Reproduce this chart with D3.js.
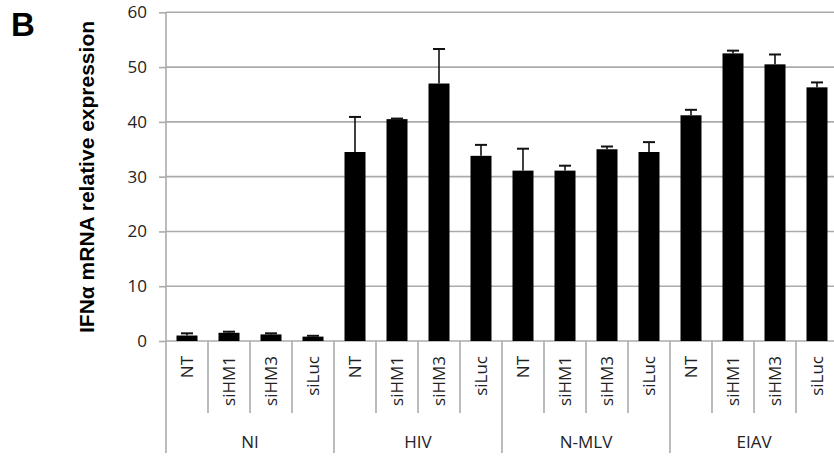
<!DOCTYPE html>
<html>
<head>
<meta charset="utf-8">
<script src="https://cdn.jsdelivr.net/npm/d3@7"></script>
<style>
  body { margin: 0; background: #fff; }
  svg { display: block; }
</style>
</head>
<body>
<div id="chart"></div>
<script>
// groups and treatments
var groups = ['NI', 'HIV', 'N-MLV', 'EIAV'];
var treatments = ['NT', 'siHM1', 'siHM3', 'siLuc'];

// mean values per group (same order as treatments)
var valuesNI = [1.0, 1.5, 1.2, 0.8];
var valuesHIV = [34.5, 40.5, 47.0, 33.8];
var valuesNMLV = [31.1, 31.1, 35.0, 34.5];
var valuesEIAV = [41.2, 52.5, 50.5, 46.3];

// upper error (SD) per group
var errNI = [0.4, 0.2, 0.2, 0.15];
var errHIV = [6.4, 0.1, 6.3, 2.0];
var errNMLV = [4.0, 0.9, 0.5, 1.8];
var errEIAV = [1.0, 0.5, 1.8, 0.9];

var yTicks = [0, 10, 20, 30, 40, 50, 60];

var allValues = [valuesNI, valuesHIV, valuesNMLV, valuesEIAV];
var allErr = [errNI, errHIV, errNMLV, errEIAV];

var data = [];
groups.forEach(function (g, i) {
    treatments.forEach(function (t, j) {
        data.push({ group: g, treat: t, key: g + '|' + t, value: allValues[i][j], err: allErr[i][j] });
    });
});

var W = 834, H = 459;
var plotLeft = 166, plotRight = 838, plotTop = 12.3, plotBottom = 341;

var svg = d3.select('#chart')
    .append('svg')
    .attr('width', W)
    .attr('height', H);

var x = d3.scaleBand()
    .domain(data.map(function (d) { return d.key; }))
    .range([plotLeft, plotRight])
    .padding(0);

var x0 = d3.scaleBand()
    .domain(groups)
    .range([plotLeft, plotRight])
    .padding(0);

var y = d3.scaleLinear()
    .domain([0, 60])
    .range([plotBottom, plotTop]);

var grey = '#ababab';

// gridlines
svg.append('g')
    .selectAll('line')
    .data(yTicks)
    .enter()
    .append('line')
    .attr('x1', plotLeft)
    .attr('x2', W)
    .attr('y1', function (d) { return y(d); })
    .attr('y2', function (d) { return y(d); })
    .attr('stroke', grey)
    .attr('stroke-width', 1.6);

// y ticks
var yAxis = svg.append('g')
    .attr('transform', 'translate(' + plotLeft + ',0)')
    .call(d3.axisLeft(y).tickValues(yTicks).tickSize(7).tickPadding(12));
yAxis.select('.domain').remove();
yAxis.selectAll('line').attr('stroke', grey).attr('stroke-width', 1.6);
yAxis.selectAll('text')
    .attr('font-family', 'Open Sans')
    .attr('font-size', '17px')
    .attr('fill', '#222');

// y axis line, down to bottom of group labels
svg.append('line')
    .attr('x1', plotLeft).attr('x2', plotLeft)
    .attr('y1', plotTop).attr('y2', 453)
    .attr('stroke', grey)
    .attr('stroke-width', 1.6);

// category separators
svg.append('g')
    .selectAll('line')
    .data(data.slice(1))
    .enter()
    .append('line')
    .attr('x1', function (d) { return x(d.key); })
    .attr('x2', function (d) { return x(d.key); })
    .attr('y1', plotBottom)
    .attr('y2', function (d) { return d.treat === 'NT' ? 453 : 413; })
    .attr('stroke', grey)
    .attr('stroke-width', 1.6);

// bars
var barW = x.bandwidth() * 0.5;
svg.append('g')
    .selectAll('rect')
    .data(data)
    .enter()
    .append('rect')
    .attr('x', function (d) { return x(d.key) + (x.bandwidth() - barW) / 2; })
    .attr('y', function (d) { return y(d.value); })
    .attr('width', barW)
    .attr('height', function (d) { return y(0) - y(d.value); })
    .attr('fill', '#000');

// error bars (upper only)
var eb = svg.append('g').selectAll('g')
    .data(data)
    .enter()
    .append('g')
    .attr('transform', function (d) { return 'translate(' + (x(d.key) + x.bandwidth() / 2) + ',0)'; });
eb.append('line')
    .attr('x1', 0).attr('x2', 0)
    .attr('y1', function (d) { return y(d.value); })
    .attr('y2', function (d) { return y(d.value + d.err); })
    .attr('stroke', '#111')
    .attr('stroke-width', 1.6);
eb.append('line')
    .attr('x1', -6).attr('x2', 6)
    .attr('y1', function (d) { return y(d.value + d.err); })
    .attr('y2', function (d) { return y(d.value + d.err); })
    .attr('stroke', '#111')
    .attr('stroke-width', 2);

// treatment labels (rotated)
svg.append('g')
    .selectAll('text')
    .data(data)
    .enter()
    .append('text')
    .attr('transform', function (d) {
        return 'translate(' + (x(d.key) + x.bandwidth() / 2 + 6) + ',356) rotate(-90)';
    })
    .attr('text-anchor', 'end')
    .attr('font-family', 'Open Sans')
    .attr('font-size', '17px')
    .attr('fill', '#222')
    .text(function (d) { return d.treat; });

// group labels
svg.append('g')
    .selectAll('text')
    .data(groups)
    .enter()
    .append('text')
    .attr('x', function (d) { return x0(d) + x0.bandwidth() / 2; })
    .attr('y', 448)
    .attr('text-anchor', 'middle')
    .attr('font-family', 'Open Sans')
    .attr('font-size', '17px')
    .attr('fill', '#222')
    .text(function (d) { return d; });

// y axis title
svg.append('text')
    .attr('transform', 'translate(94,177) rotate(-90)')
    .attr('text-anchor', 'middle')
    .attr('font-family', 'Liberation Sans, Arial, sans-serif')
    .attr('font-weight', 'bold')
    .attr('font-size', '21px')
    .attr('fill', '#000')
    .text('IFN\u03B1 mRNA relative expression');

// panel letter
svg.append('text')
    .attr('x', 11)
    .attr('y', 36)
    .attr('font-family', 'Liberation Sans, Arial, sans-serif')
    .attr('font-weight', 'bold')
    .attr('font-size', '33px')
    .attr('fill', '#000')
    .text('B');
</script>
</body>
</html>
